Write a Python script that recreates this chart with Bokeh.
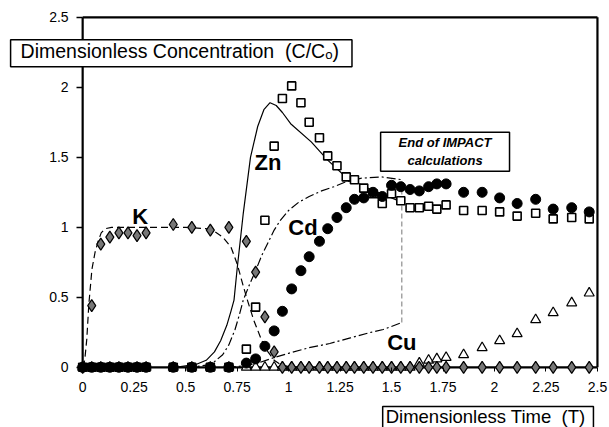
from bokeh.plotting import figure
from bokeh.models import Range1d, FixedTicker, Label
from bokeh.embed import file_html
from bokeh.resources import INLINE

# ---------------- data ----------------
# dimensionless time of the measurements
T = [0.0, 0.044, 0.088, 0.132, 0.176, 0.22, 0.264, 0.308,
     0.44, 0.53, 0.62, 0.71,
     0.795, 0.84, 0.885, 0.93, 0.97, 1.015, 1.06, 1.10, 1.15, 1.19, 1.235,
     1.28, 1.32, 1.365, 1.41, 1.455, 1.50, 1.545, 1.59, 1.635, 1.68, 1.72, 1.765,
     1.85, 1.94, 2.025, 2.11, 2.20, 2.285, 2.375, 2.46]

K_obs = [0.0, 0.44, 0.88, 0.93, 0.96, 0.96, 0.94, 0.96,
         1.02, 1.00, 0.98, 1.00,
         0.90, 0.68, 0.36, 0.11, 0.0, 0.0, 0.0, 0.0, 0.0, 0.0, 0.0,
         0.0, 0.0, 0.0, 0.0, 0.0, 0.0, 0.0, 0.0, 0.0, 0.0, 0.0, 0.0,
         0.0, 0.0, 0.0, 0.0, 0.0, 0.0, 0.0, 0.0]

Zn_obs = [0.0, 0.0, 0.0, 0.0, 0.0, 0.0, 0.0, 0.0,
          0.0, 0.0, 0.0, 0.0,
          0.13, 0.43, 1.05, 1.58, 1.92, 2.01, 1.89, 1.75, 1.64, 1.51, 1.44,
          1.36, 1.34, 1.28, 1.24, 1.17, 1.24, 1.19, 1.14, 1.14, 1.15, 1.13, 1.16,
          1.12, 1.12, 1.11, 1.08, 1.10, 1.06, 1.07, 1.06]

Cd_obs = [0.0, 0.0, 0.0, 0.0, 0.0, 0.0, 0.0, 0.0,
          0.0, 0.0, 0.0, 0.0,
          0.03, 0.06, 0.15, 0.26, 0.40, 0.56, 0.69, 0.79, 0.90, 0.99, 1.07,
          1.14, 1.20, 1.21, 1.25, 1.22, 1.30, 1.29, 1.27, 1.26, 1.29, 1.31, 1.31,
          1.25, 1.25, 1.21, 1.17, 1.20, 1.13, 1.14, 1.11]

Cu_obs = [0.0, 0.0, 0.0, 0.0, 0.0, 0.0, 0.0, 0.0,
          0.0, 0.0, 0.0, 0.0,
          0.0, 0.0, 0.0, 0.0, 0.0, 0.0, 0.0, 0.0, 0.0, 0.0, 0.0,
          0.0, 0.0, 0.0, 0.0, 0.0, 0.0, 0.0, 0.0, 0.03, 0.05, 0.06, 0.07,
          0.09, 0.14, 0.19, 0.24, 0.34, 0.39, 0.46, 0.53]

# IMPACT model curves
K_mod_t = [0.0, 0.01, 0.02, 0.03, 0.045, 0.06, 0.075, 0.09, 0.11, 0.14, 0.3, 0.5,
           0.6, 0.64, 0.68, 0.72, 0.75, 0.78, 0.80, 0.83, 0.87, 0.90, 0.93, 0.96, 1.0, 1.05]
K_mod = [0.0, 0.05, 0.2, 0.45, 0.7, 0.82, 0.9, 0.96, 0.99, 1.0, 1.0, 1.0,
         0.99, 0.97, 0.93, 0.86, 0.74, 0.58, 0.48, 0.34, 0.19, 0.11, 0.05, 0.02, 0.005, 0.0]

Zn_mod_t = [0.45, 0.5, 0.55, 0.6, 0.64, 0.67, 0.70, 0.72, 0.735, 0.75, 0.78, 0.815,
            0.85, 0.88, 0.91, 0.94, 0.97, 1.01, 1.11, 1.19, 1.27, 1.37, 1.45, 1.55]
Zn_mod = [0.0, 0.01, 0.02, 0.05, 0.11, 0.19, 0.30, 0.40, 0.48, 0.70, 1.10, 1.50,
          1.72, 1.84, 1.89, 1.87, 1.82, 1.74, 1.61, 1.48, 1.37, 1.29, 1.24, 1.18]

Cd_mod_t = [0.5, 0.55, 0.6, 0.64, 0.68, 0.71, 0.74, 0.76, 0.78, 0.81, 0.84, 0.87,
            0.9, 0.93, 0.96, 1.0, 1.05, 1.1, 1.16, 1.22, 1.27, 1.35, 1.45, 1.55]
Cd_mod = [0.0, 0.005, 0.015, 0.04, 0.09, 0.16, 0.27, 0.37, 0.48, 0.59, 0.69, 0.80,
          0.89, 0.98, 1.05, 1.12, 1.18, 1.22, 1.26, 1.29, 1.32, 1.35, 1.36, 1.34]

Cu_mod_t = [0.7, 0.78, 0.85, 0.93, 1.0, 1.1, 1.2, 1.3, 1.4, 1.46, 1.55]
Cu_mod = [0.0, 0.01, 0.03, 0.07, 0.10, 0.14, 0.17, 0.21, 0.25, 0.27, 0.32]

x_ticks = [0, 0.25, 0.5, 0.75, 1, 1.25, 1.5, 1.75, 2, 2.25, 2.5]
x_tick_labels = ["0", "0.25", "0.5", "0.75", "1", "1.25", "1.5", "1.75", "2", "2.25", "2.5"]
y_ticks = [0, 0.5, 1, 1.5, 2, 2.5]
y_tick_labels = ["0", "0.5", "1", "1.5", "2", "2.5"]

species_labels = ["K", "Zn", "Cd", "Cu"]
species_label_pos = [(0.28, 1.08), (0.90, 1.46), (1.07, 1.00), (1.55, 0.18)]

y_title = "Dimensionless Concentration \u00a0(C/C\u2092)"
x_title = "Dimensionless Time \u00a0(T)"
note_text = "End of IMPACT\ncalculations"

X_MAX = 2.5
Y_MAX = 2.5

FONT = "Liberation Sans"

# ---------------- figure ----------------
# the frame fills the whole canvas; both axes are drawn at the data origin
p = figure(width=609, height=427, output_backend="svg", toolbar_location=None,
           x_range=Range1d(-0.399, 2.5585), y_range=Range1d(-0.43, 2.62),
           min_border_left=0, min_border_right=0, min_border_top=0,
           min_border_bottom=0)
p.outline_line_color = None
p.grid.visible = False
p.background_fill_color = "white"
p.border_fill_color = "white"

# x axis
xa = p.xaxis[0]
xa.fixed_location = 0
xa.ticker = FixedTicker(ticks=x_ticks)
xa.major_label_overrides = {t: l for t, l in zip(x_ticks, x_tick_labels)}
xa.axis_line_color = None
xa.major_tick_in = 0
xa.major_tick_out = 4
xa.major_tick_line_width = 1
xa.major_tick_line_color = "black"
xa.minor_tick_line_color = None
xa.major_label_standoff = 11
xa.major_label_text_font = FONT
xa.major_label_text_font_size = "14px"
xa.major_label_text_color = "black"

# y axis
ya = p.yaxis[0]
ya.fixed_location = 0
ya.ticker = FixedTicker(ticks=y_ticks)
ya.major_label_overrides = {t: l for t, l in zip(y_ticks, y_tick_labels)}
ya.axis_line_color = None
ya.major_tick_in = 0
ya.major_tick_out = 6
ya.major_tick_line_width = 1.5
ya.major_tick_line_color = "black"
ya.minor_tick_line_color = None
ya.major_label_standoff = 8
ya.major_label_text_font = FONT
ya.major_label_text_font_size = "14px"
ya.major_label_text_color = "black"

# frame lines
p.segment(x0=[0, 0, X_MAX], y0=[0, Y_MAX, 0], x1=[0, X_MAX, X_MAX], y1=[Y_MAX, Y_MAX, Y_MAX],
          line_color="black", line_width=2.2)
p.segment(x0=[0], y0=[0], x1=[X_MAX], y1=[0], line_color="black", line_width=2.2)

# model curves
p.line(K_mod_t, K_mod, line_color="black", line_width=1.2, line_dash="7 4")
p.line(Zn_mod_t, Zn_mod, line_color="black", line_width=1.2)
p.line(Cd_mod_t, Cd_mod, line_color="black", line_width=1.2, line_dash="9 3 2 3")
p.line(Cu_mod_t, Cu_mod, line_color="black", line_width=1.2, line_dash="9 3 2 3")
# end of model calculations marker
p.segment(x0=[Cu_mod_t[-1]], y0=[Cu_mod[-1]], x1=[Cd_mod_t[-1]], y1=[Cd_mod[-1]],
          line_color="#777777", line_width=1, line_dash="5 3")

# observations
p.scatter(T, Zn_obs, marker="square", size=8, fill_color="white", line_color="black", line_width=1.6)
p.scatter(T, Cu_obs, marker="triangle", size=10, fill_color="white", line_color="black", line_width=1.2)
p.scatter(T, K_obs, marker="diamond", size=12, fill_color="#777777", line_color="black", line_width=1.2)
p.scatter(T, Cd_obs, marker="circle", size=10, fill_color="black", line_color="black")

# species labels
for name, (lx, ly) in zip(species_labels, species_label_pos):
    p.add_layout(Label(x=lx, y=ly, text=name, text_font=FONT, text_font_size="22px",
                       text_font_style="bold", text_align="center", text_baseline="middle",
                       text_color="black"))

# boxed axis titles
p.add_layout(Label(x=-0.35, y=2.243, text=y_title,
                   text_font=FONT, text_font_size="19.5px", text_align="left",
                   text_baseline="middle", text_color="black",
                   background_fill_color="white", border_line_color="black",
                   border_line_width=1.5,
                   padding=dict(left=10, right=13, top=0, bottom=5)))
p.add_layout(Label(x=1.457, y=-0.372, text=x_title,
                   text_font=FONT, text_font_size="18.5px", text_align="left",
                   text_baseline="middle", text_color="black",
                   background_fill_color="white", border_line_color="black",
                   border_line_width=1.5,
                   padding=dict(left=3, right=8, top=0, bottom=5)))
p.add_layout(Label(x=1.76, y=1.54, text=note_text,
                   text_font=FONT, text_font_size="13px", text_font_style="bold italic",
                   text_align="center", text_baseline="middle", text_color="black",
                   background_fill_color="white", border_line_color="black",
                   border_line_width=1.5,
                   padding=dict(left=18, right=18, top=3, bottom=3)))

open("out.html", "w").write(file_html(p, INLINE))
